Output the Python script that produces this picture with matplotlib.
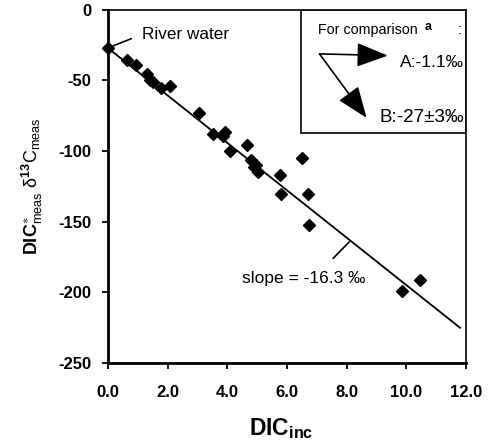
import matplotlib
matplotlib.use("Agg")
import matplotlib.pyplot as plt
from matplotlib.patches import Rectangle

plt.rcParams['font.family'] = ['Liberation Sans', 'DejaVu Sans']
plt.rcParams['mathtext.fontset'] = 'custom'
plt.rcParams['mathtext.rm'] = 'Liberation Sans'
plt.rcParams['mathtext.it'] = 'Liberation Sans:italic'
plt.rcParams['mathtext.bf'] = 'Liberation Sans:bold'

# Data
dic_inc = [0.0, 0.63, 0.94, 1.32, 1.41, 1.5, 1.77, 2.08, 3.05, 3.52, 3.85, 3.92,
           4.1, 4.66, 4.8, 4.9, 4.97, 5.02, 5.76, 6.51, 5.81, 6.71, 6.73, 9.84, 10.45]
d13c = [-27.0, -35.3, -39.3, -45.7, -49.4, -51.0, -55.1, -54.0, -73.0, -88.2, -89.5, -86.5,
        -99.6, -96.0, -106.0, -111.0, -109.6, -114.9, -117.0, -104.7, -130.0, -130.0,
        -152.5, -199.0, -191.5]

fit_x = [0.0, 11.8]
fit_y = [-27.0, -225.0]

x_ticks = [0, 2, 4, 6, 8, 10, 12]
x_tick_labels = ['0.0', '2.0', '4.0', '6.0', '8.0', '10.0', '12.0']
y_ticks = [0, -50, -100, -150, -200, -250]
y_tick_labels = ['0', '-50', '-100', '-150', '-200', '-250']

fig = plt.figure(figsize=(4.88, 4.45), dpi=100)
ax = fig.add_axes([0.221, 0.184, 0.734, 0.794])

ax.plot(fit_x, fit_y, color='black', lw=1.3)
ax.plot(dic_inc, d13c, linestyle='none', marker='D', markersize=5.8,
        color='black', clip_on=False, zorder=5)

ax.set_xlim(0, 12)
ax.set_ylim(-250, 0)
ax.set_xticks(x_ticks)
ax.set_xticklabels(x_tick_labels, fontsize=12, fontweight='bold')
ax.set_yticks(y_ticks)
ax.set_yticklabels(y_tick_labels, fontsize=12, fontweight='bold')
ax.tick_params(direction='out', length=4, width=1.3)
ax.tick_params(axis='x', pad=12)
ax.tick_params(axis='y', pad=8)
for side in ['left', 'bottom']:
    ax.spines[side].set_linewidth(2.0)
for side in ['top', 'right']:
    ax.spines[side].set_linewidth(1.2)

ax.set_xlabel(r'$\mathbf{DIC}_{\mathbf{inc}}$', fontsize=16.5)
ax.xaxis.set_label_coords(0.485, -0.15)
ax.yaxis.set_label_coords(-0.175, 0.535)
ax.set_ylabel(r'$\mathbf{DIC}^{\ast}_{\mathrm{meas}}\ \mathrm{δ}^{\mathbf{13}}\mathrm{C}_{\mathrm{meas}}$',
              fontsize=13)

# River water annotation
ax.annotate('River water', xy=(0.0, -27.0), xytext=(1.14, -17.5),
            fontsize=12.3, va='center', ha='left',
            arrowprops=dict(arrowstyle='-', color='black', lw=1.2,
                            shrinkA=6, shrinkB=0, relpos=(0, 0.5)))

# slope annotation
ax.plot([7.55, 8.08], [-175.8, -164.4], color='black', lw=1.2)
ax.text(4.5, -190, 'slope = -16.3 \u2030', fontsize=12.5, va='center', ha='left')

# comparison box
ax.add_patch(Rectangle((0.538, 0.652), 0.462, 0.348, transform=ax.transAxes,
                       fill=False, edgecolor='black', lw=1.2, zorder=6))
ax.text(7.03, -14.5, 'For comparison', fontsize=10.3, va='center', ha='left')
ax.text(10.62, -12.5, 'a', fontsize=9, fontweight='bold', va='center', ha='left')
ax.text(11.72, -14.5, ':', fontsize=11, va='center', ha='left')
ax.text(11.92, -37.5, 'A:-1.1\u2030', fontsize=12.5, va='center', ha='right')
ax.text(11.92, -76.5, 'B:-27\u00b13\u2030', fontsize=13.5, va='center', ha='right')
ax.annotate('', xy=(9.38, -32.4), xytext=(7.09, -31.2),
            arrowprops=dict(arrowstyle='-|>,head_length=1.3,head_width=0.5',
                            color='black', lw=1.2, shrinkA=0, shrinkB=0,
                            mutation_scale=15))
ax.annotate('', xy=(8.67, -76.5), xytext=(7.09, -31.2),
            arrowprops=dict(arrowstyle='-|>,head_length=1.3,head_width=0.5',
                            color='black', lw=1.2, shrinkA=0, shrinkB=0,
                            mutation_scale=15))

fig.savefig('out.png', dpi=100)
